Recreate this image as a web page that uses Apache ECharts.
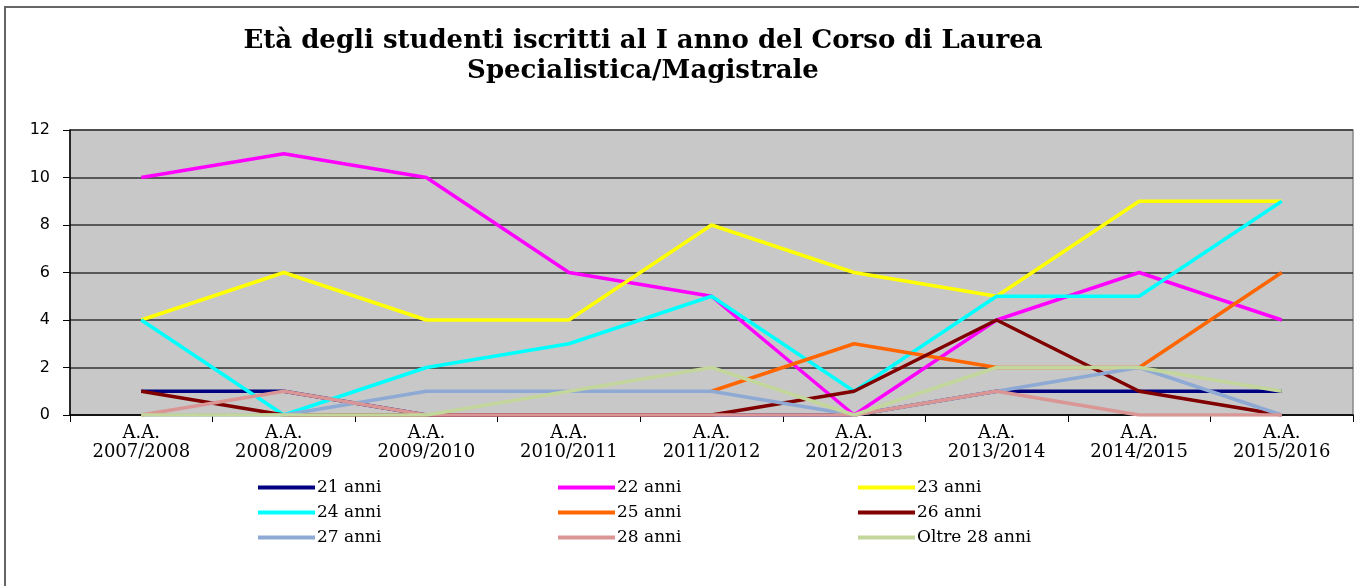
<!DOCTYPE html>
<html>
<head>
<meta charset="utf-8">
<script src="https://cdn.jsdelivr.net/npm/echarts@6/dist/echarts.min.js"></script>
<style>
  html, body { margin: 0; padding: 0; background: #fff; }
  #main { width: 1359px; height: 586px; }
</style>
</head>
<body>
<div id="main"></div>
<script>
// anni accademici
var years = ['2007/2008', '2008/2009', '2009/2010', '2010/2011', '2011/2012',
             '2012/2013', '2013/2014', '2014/2015', '2015/2016'];
var yTicks = [0, 2, 4, 6, 8, 10, 12];

var age21 = [1, 1, 0, 0, 0, 0, 1, 1, 1];
var age22 = [10, 11, 10, 6, 5, 0, 4, 6, 4];
var age23 = [4, 6, 4, 4, 8, 6, 5, 9, 9];
var age24 = [4, 0, 2, 3, 5, 1, 5, 5, 9];
var age25 = [null, null, null, null, 1, 3, 2, 2, 6];
var age26 = [1, 0, 0, 0, 0, 1, 4, 1, 0];
var age27 = [0, 0, 1, 1, 1, 0, 1, 2, 0];
var age28 = [0, 1, 0, 0, 0, 0, 1, 0, 0];
var oltre28 = [0, 0, 0, 1, 2, 0, 2, 2, 1];

var seriesDefs = [
  { name: '21 anni', data: age21, color: '#000080' },
  { name: '22 anni', data: age22, color: '#ff00ff' },
  { name: '23 anni', data: age23, color: '#ffff00' },
  { name: '24 anni', data: age24, color: '#00ffff' },
  { name: '25 anni', data: age25, color: '#ff6600' },
  { name: '26 anni', data: age26, color: '#800000' },
  { name: '27 anni', data: age27, color: '#8eaad4' },
  { name: '28 anni', data: age28, color: '#d99694' },
  { name: 'Oltre 28 anni', data: oltre28, color: '#c3d69b' }
];

var serif = '"DejaVu Serif", "Liberation Serif", serif';

var myChart = echarts.init(document.getElementById('main'));

// legenda su 3 colonne x 3 righe
var legendCols = [258, 558, 858];
var legendRows = [479, 504, 529];
var legends = seriesDefs.map(function (s, i) {
  return {
    left: legendCols[i % 3],
    top: legendRows[Math.floor(i / 3)],
    icon: 'rect',
    itemWidth: 57,
    itemHeight: 4,
    padding: 0,
    selectedMode: false,
    data: [s.name],
    textStyle: {
      fontFamily: serif,
      fontSize: 17,
      color: '#000',
      padding: [0, 0, 0, -3]
    }
  };
});

var option = {
  backgroundColor: '#fff',
  animation: false,
  title: {
    text: 'Età degli studenti iscritti al I anno del Corso di Laurea\nSpecialistica/Magistrale',
    left: 638,
    top: 21,
    textAlign: 'center',
    textStyle: {
      fontFamily: serif,
      fontSize: 26,
      fontWeight: 'bold',
      color: '#000',
      lineHeight: 30
    }
  },
  legend: legends,
  grid: {
    left: 70,
    right: 6,
    top: 130,
    bottom: 171,
    show: true,
    backgroundColor: '#c8c8c8',
    borderColor: '#888',
    borderWidth: 1.5
  },
  xAxis: {
    type: 'category',
    boundaryGap: true,
    data: years,
    axisLine: { lineStyle: { color: '#000', width: 1.5 } },
    axisTick: { show: true, length: 7, lineStyle: { color: '#000' } },
    axisLabel: {
      interval: 0,
      formatter: function (v) { return 'A.A.\n' + v; },
      fontFamily: serif,
      fontSize: 18,
      color: '#000',
      lineHeight: 19,
      margin: 9
    }
  },
  yAxis: {
    type: 'value',
    min: yTicks[0],
    max: yTicks[yTicks.length - 1],
    interval: 2,
    axisLine: { show: true, lineStyle: { color: '#000', width: 1.5 } },
    axisTick: { show: true, length: 7, lineStyle: { color: '#000' } },
    splitLine: { lineStyle: { color: '#333', width: 1.5 } },
    axisLabel: {
      fontFamily: '"DejaVu Sans", Verdana, sans-serif',
      fontSize: 16,
      color: '#000',
      margin: 20
    }
  },
  series: seriesDefs.map(function (s) {
    return {
      name: s.name,
      type: 'line',
      data: s.data,
      symbol: 'none',
      showSymbol: false,
      color: s.color,
      lineStyle: { color: s.color, width: 3.5 }
    };
  }),
  graphic: [{
    type: 'rect',
    shape: { x: 5, y: 7, width: 1360, height: 590 },
    style: { fill: 'none', stroke: '#666', lineWidth: 2 },
    silent: true
  }]
};

myChart.setOption(option);
</script>
</body>
</html>
